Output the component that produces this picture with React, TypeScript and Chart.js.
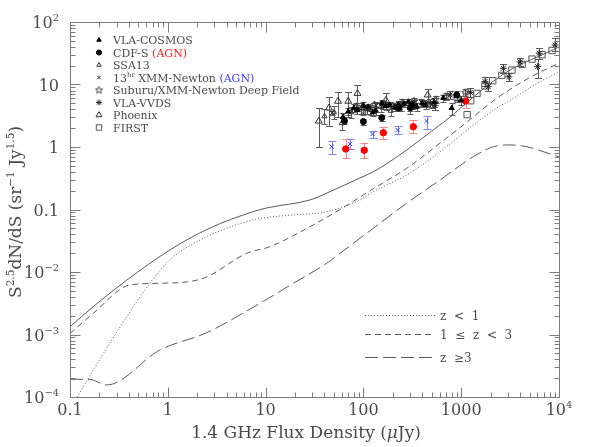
import React, { useEffect, useRef } from "react";
import { Chart, registerables } from "chart.js";
import { drawPoint } from "chart.js/helpers";
Chart.register(...registerables);

const FONT = "'DejaVu Serif', 'Liberation Serif', serif";
const TEXT = "#4a4a4a";
const AXIS = "#7a7a7a";
const CURVE = "#5a5a5a";

// ---------- axes ----------
const xRange = [0.1, 10000];
const yRange = [1e-4, 100];
const xDecades = [0.1, 1, 10, 100, 1000];
const yDecades = [1e-4, 1e-3, 1e-2, 0.1, 1, 10];
const minorSteps = [2, 3, 4, 5, 6, 7, 8, 9];
const xTickValues = [0.1, 1, 10, 100, 1000, 10000];
const xTickBase = ["0.1", "1", "10", "100", "1000", "10"];
const xTickExp = ["", "", "", "", "", "4"];
const yTickValues = [1e-4, 1e-3, 1e-2, 0.1, 1, 10, 100];
const yTickBase = ["10", "10", "10", "0.1", "1", "10", "10"];
const yTickExp = ["\u22124", "\u22123", "\u22122", "", "", "", "2"];

// ---------- model curves ----------
const totalFlux = [0.1, 0.173, 0.38, 1.05, 2.7, 7.43, 10.3, 28.4, 45.5, 92, 126, 277, 500, 830, 1050, 2000, 3155, 5050, 8750, 10000];
const totalCounts = [1.33e-3, 2.79e-3, 7.4e-3, 0.0225, 0.0506, 0.092, 0.106, 0.142, 0.193, 0.319, 0.4, 0.895, 1.8, 3.3, 4.6, 10.5, 17, 24.5, 36, 40];

const lowzFlux = [0.11, 0.256, 0.658, 1.05, 2.13, 7.43, 19.2, 42.5, 92, 126, 277, 607, 1330, 2307, 3410, 6400, 10000];
const lowzCounts = [8.3e-5, 7.3e-4, 6.67e-3, 0.0156, 0.0325, 0.068, 0.082, 0.092, 0.142, 0.193, 0.356, 0.84, 2.25, 4.2, 6.0, 11.1, 15.8];

const midzFlux = [0.1, 0.173, 0.41, 0.83, 2.29, 6.41, 11.1, 28.4, 57.7, 126, 277, 607, 1050, 2307, 5050, 10000];
const midzCounts = [1.04e-3, 2.18e-3, 6.2e-3, 6.6e-3, 7.9e-3, 0.0199, 0.0254, 0.053, 0.1, 0.215, 0.456, 1.15, 2.25, 6.0, 13.0, 22];

const highzFlux = [0.1, 0.157, 0.237, 0.83, 2.5, 8.77, 19.2, 42.2, 57.7, 126, 277, 607, 1330, 2130, 3155, 4680, 8750, 10000];
const highzCounts = [1.92e-4, 1.92e-4, 1.56e-4, 5.65e-4, 1.07e-3, 3.16e-3, 6.6e-3, 0.0138, 0.0199, 0.05, 0.126, 0.296, 0.7, 1.01, 1.08, 1.01, 0.745, 0.7];

// ---------- observed counts ----------
const cosmosFlux = [62, 70, 80, 87, 100, 112, 125, 134, 154, 170, 187, 210, 227, 260, 288, 320, 351, 400, 434, 530, 656, 800, 1000];
const cosmosCounts = [3.0, 3.7, 4.2, 3.9, 4.6, 4.4, 3.6, 3.8, 5.0, 4.5, 4.7, 4.3, 4.7, 4.9, 5.3, 4.8, 4.4, 5.0, 4.7, 5.2, 6.1, 4.2, 5.6];
const cosmosLo = [2.5, 3.2, 3.6, 3.4, 4.0, 3.9, 3.1, 3.3, 4.4, 3.9, 4.1, 3.7, 4.1, 4.3, 4.7, 4.1, 3.8, 4.3, 4.0, 4.4, 5.3, 3.3, 4.7];
const cosmosHi = [3.5, 4.2, 4.8, 4.4, 5.2, 4.9, 4.1, 4.3, 5.6, 5.1, 5.3, 4.9, 5.3, 5.5, 5.9, 5.5, 5.0, 5.7, 5.4, 6.0, 6.9, 5.1, 6.5];

const cdfsFlux = [64, 100, 154, 230, 302, 900];
const cdfsCounts = [2.6, 2.55, 2.95, 4.2, 4.25, 6.8];
const cdfsLo = [2.3, 2.25, 2.6, 3.7, 3.7, 5.6];
const cdfsHi = [2.9, 2.85, 3.3, 4.7, 4.8, 8.0];

const cdfsAgnFlux = [66, 102, 160, 324, 1110];
const cdfsAgnCounts = [0.93, 0.885, 1.69, 2.11, 5.45];
const cdfsAgnLo = [0.66, 0.66, 1.35, 1.65, 4.2];
const cdfsAgnHi = [1.36, 1.17, 2.1, 2.7, 7.2];

const ssaFlux = [40, 50, 60, 75, 95, 120, 150, 190, 240, 300];
const ssaCounts = [3.1, 3.6, 2.4, 3.6, 4.2, 3.9, 4.4, 3.8, 4.6, 4.2];
const ssaLo = [2.3, 2.8, 1.9, 2.9, 3.4, 3.2, 3.6, 3.1, 3.8, 3.4];
const ssaHi = [4.0, 4.5, 3.0, 4.4, 5.1, 4.7, 5.3, 4.6, 5.5, 5.1];

const xmmFlux = [48, 62, 80, 105, 135, 175, 230, 300, 390, 500];
const xmmCounts = [3.5, 3.2, 4.0, 4.3, 4.6, 4.8, 4.4, 4.9, 5.2, 4.8];
const xmmLo = [3.2, 2.9, 3.6, 3.9, 4.2, 4.3, 3.9, 4.3, 4.6, 4.2];
const xmmHi = [3.8, 3.5, 4.4, 4.7, 5.0, 5.3, 4.9, 5.5, 5.8, 5.4];

const xmmAgnFlux = [47.4, 73, 124, 224, 443];
const xmmAgnCounts = [1.01, 1.12, 1.61, 1.87, 2.6];
const xmmAgnLo = [0.76, 0.94, 1.41, 1.62, 1.93];
const xmmAgnHi = [1.25, 1.34, 1.8, 2.15, 3.1];

const subaruFlux = [85, 100, 130, 160, 200, 250, 330, 420, 550, 700, 900, 1100];
const subaruCounts = [4.5, 3.8, 4.8, 5.0, 4.6, 5.2, 5.5, 5.0, 5.8, 6.5, 6.0, 7.5];
const subaruLo = [4.0, 3.3, 4.3, 4.5, 4.1, 4.6, 4.9, 4.4, 5.1, 5.7, 5.2, 6.5];
const subaruHi = [5.0, 4.3, 5.3, 5.5, 5.1, 5.8, 6.1, 5.6, 6.5, 7.3, 6.8, 8.5];

const vvdsFlux = [110, 160, 230, 330, 480, 540, 770, 1240, 1750, 1890, 2700, 3070, 3990, 6050, 6280, 9130];
const vvdsCounts = [4.0, 4.6, 4.8, 5.0, 5.0, 4.6, 6.8, 7.5, 11.1, 9.2, 18.2, 13.3, 23, 19.3, 31.6, 42.8];
const vvdsLo = [3.4, 4.0, 4.1, 4.3, 4.3, 3.9, 5.8, 6.4, 9.3, 7.8, 15.0, 11.3, 19.5, 12.6, 26.0, 34.0];
const vvdsHi = [4.6, 5.2, 5.5, 5.7, 5.8, 5.3, 7.9, 8.7, 13.0, 10.7, 21.5, 15.5, 27, 26, 38, 55];

const phoenixFlux = [35, 44.5, 55, 70, 87, 170, 454];
const phoenixCounts = [2.6, 4.2, 5.4, 5.4, 7.2, 5.6, 6.8];
const phoenixLo = [1.0, 2.2, 3.0, 3.0, 4.2, 4.0, 5.2];
const phoenixHi = [4.2, 6.2, 7.7, 7.6, 9.9, 7.2, 8.6];

const firstFlux = [1150, 1250, 1450, 1750, 2100, 2600, 3300, 4200, 5300, 6700, 8500];
const firstCounts = [3.3, 5.5, 7.2, 9.5, 11.5, 14.0, 17.0, 21.0, 25.5, 30.0, 35.0];

type Part = { t: string; sup?: boolean; color?: string; italic?: boolean };

function fontFor(p: Part, size: number) {
  const s = p.sup ? size * 0.62 : size;
  return `${p.italic ? "italic " : ""}${s}px ${FONT}`;
}
function partsWidth(ctx: CanvasRenderingContext2D, parts: Part[], size: number) {
  let w = 0;
  for (const p of parts) {
    ctx.font = fontFor(p, size);
    w += ctx.measureText(p.t).width;
  }
  return w;
}
function drawParts(ctx: CanvasRenderingContext2D, parts: Part[], x: number, baseline: number, size: number, align: string, color: string) {
  const w = partsWidth(ctx, parts, size);
  let cx = align === "left" ? x : align === "center" ? x - w / 2 : x - w;
  ctx.textAlign = "left";
  ctx.textBaseline = "alphabetic";
  for (const p of parts) {
    ctx.font = fontFor(p, size);
    ctx.fillStyle = p.color || color;
    ctx.fillText(p.t, cx, baseline - (p.sup ? size * 0.42 : 0));
    cx += ctx.measureText(p.t).width;
  }
}

function makeStar(): HTMLCanvasElement {
  const c = document.createElement("canvas");
  c.width = 9;
  c.height = 9;
  const g = c.getContext("2d")!;
  g.strokeStyle = "#333";
  g.lineWidth = 0.9;
  g.beginPath();
  for (let i = 0; i < 10; i++) {
    const r = i % 2 === 0 ? 3.8 : 1.6;
    const a = -Math.PI / 2 + (i * Math.PI) / 5;
    const px = 4.5 + r * Math.cos(a);
    const py = 4.7 + r * Math.sin(a);
    if (i === 0) g.moveTo(px, py);
    else g.lineTo(px, py);
  }
  g.closePath();
  g.stroke();
  return c;
}

export default function App() {
  const ref = useRef<HTMLCanvasElement>(null);
  useEffect(() => {
    const canvas = ref.current!;
    const star = makeStar();

    const series = [
      { label: "VLA-COSMOS", x: cosmosFlux, y: cosmosCounts, lo: cosmosLo, hi: cosmosHi, style: "triangle" as any, r: 3, fill: "#000", stroke: "#000", bar: "#5a5a5a", cap: 3 },
      { label: "CDF-S", x: cdfsFlux, y: cdfsCounts, lo: cdfsLo, hi: cdfsHi, style: "circle" as any, r: 3, fill: "#000", stroke: "#000", bar: "#5a5a5a", cap: 3 },
      { label: "CDF-S AGN", x: cdfsAgnFlux, y: cdfsAgnCounts, lo: cdfsAgnLo, hi: cdfsAgnHi, style: "circle" as any, r: 3.2, fill: "#ff0000", stroke: "#ff0000", bar: "#ff8080", cap: 4 },
      { label: "SSA13", x: ssaFlux, y: ssaCounts, lo: ssaLo, hi: ssaHi, style: "triangle" as any, r: 3, fill: "rgba(0,0,0,0)", stroke: "#333", bar: "#5a5a5a", cap: 3 },
      { label: "13hr XMM", x: xmmFlux, y: xmmCounts, lo: xmmLo, hi: xmmHi, style: "crossRot" as any, r: 3, fill: "rgba(0,0,0,0)", stroke: "#222", bar: "#5a5a5a", cap: 3 },
      { label: "13hr XMM AGN", x: xmmAgnFlux, y: xmmAgnCounts, lo: xmmAgnLo, hi: xmmAgnHi, style: "crossRot" as any, r: 3, fill: "rgba(0,0,0,0)", stroke: "#3d3dff", bar: "#8080ff", cap: 4 },
      { label: "Subaru", x: subaruFlux, y: subaruCounts, lo: subaruLo, hi: subaruHi, style: star as any, r: 3, fill: "rgba(0,0,0,0)", stroke: "#333", bar: "#5a5a5a", cap: 3 },
      { label: "VLA-VVDS", x: vvdsFlux, y: vvdsCounts, lo: vvdsLo, hi: vvdsHi, style: "star" as any, r: 3.5, fill: "rgba(0,0,0,0)", stroke: "#222", bar: "#5a5a5a", cap: 3.5 },
      { label: "Phoenix", x: phoenixFlux, y: phoenixCounts, lo: phoenixLo, hi: phoenixHi, style: "triangle" as any, r: 4, fill: "rgba(0,0,0,0)", stroke: "#333", bar: "#5a5a5a", cap: 3.5 },
      { label: "FIRST", x: firstFlux, y: firstCounts, lo: null as any, hi: null as any, style: "rect" as any, r: 4.5, fill: "rgba(0,0,0,0)", stroke: "#555", bar: "#5a5a5a", cap: 3 },
    ];

    const curves = [
      { x: totalFlux, y: totalCounts, dash: [] as number[] },
      { x: lowzFlux, y: lowzCounts, dash: [1, 2] },
      { x: midzFlux, y: midzCounts, dash: [6, 4] },
      { x: highzFlux, y: highzCounts, dash: [13, 5] },
    ];

    const datasets: any[] = [];
    series.forEach((s) => {
      datasets.push({
        type: "scatter",
        label: s.label,
        data: s.x.map((v, i) => ({ x: v, y: s.y[i] })),
        pointStyle: s.style,
        pointRadius: s.r,
        pointBackgroundColor: s.fill,
        pointBorderColor: s.stroke,
        pointBorderWidth: 1,
        showLine: false,
      });
    });
    curves.forEach((c) => {
      datasets.push({
        type: "line",
        data: c.x.map((v, i) => ({ x: v, y: c.y[i] })),
        borderColor: CURVE,
        borderWidth: 1,
        borderDash: c.dash,
        pointRadius: 0,
        cubicInterpolationMode: "monotone",
        fill: false,
      });
    });

    const errorBars = {
      id: "errorBars",
      beforeDatasetsDraw(chart: any) {
        const { ctx, scales } = chart;
        const xs = scales.x, ys = scales.y;
        ctx.save();
        ctx.lineWidth = 1;
        series.forEach((s) => {
          if (!s.lo) return;
          ctx.strokeStyle = s.bar;
          s.x.forEach((v: number, i: number) => {
            const px = Math.round(xs.getPixelForValue(v)) + 0.5;
            const p1 = Math.round(ys.getPixelForValue(s.lo[i])) + 0.5;
            const p2 = Math.round(ys.getPixelForValue(s.hi[i])) + 0.5;
            ctx.beginPath();
            ctx.moveTo(px, p1);
            ctx.lineTo(px, p2);
            ctx.moveTo(px - s.cap, p1);
            ctx.lineTo(px + s.cap, p1);
            ctx.moveTo(px - s.cap, p2);
            ctx.lineTo(px + s.cap, p2);
            ctx.stroke();
          });
        });
        ctx.restore();
      },
    };

    const frame = {
      id: "frame",
      afterDraw(chart: any) {
        const { ctx, chartArea: a, scales } = chart;
        const xs = scales.x, ys = scales.y;
        ctx.save();
        ctx.strokeStyle = AXIS;
        ctx.lineWidth = 1;
        ctx.beginPath();
        ctx.rect(a.left + 0.5, a.top + 0.5, a.right - a.left, a.bottom - a.top);
        const L = a.left + 0.5, R = a.right + 0.5, T = a.top + 0.5, B = a.bottom + 0.5;
        xDecades.forEach((d) => {
          [1, ...minorSteps].forEach((m) => {
            const px = Math.round(xs.getPixelForValue(d * m)) + 0.5;
            const len = m === 1 ? 10 : 5;
            ctx.moveTo(px, B); ctx.lineTo(px, B - len);
            ctx.moveTo(px, T); ctx.lineTo(px, T + len);
          });
        });
        yDecades.forEach((d) => {
          [1, ...minorSteps].forEach((m) => {
            const py = Math.round(ys.getPixelForValue(d * m)) + 0.5;
            const len = m === 1 ? 10 : 5;
            ctx.moveTo(L, py); ctx.lineTo(L + len, py);
            ctx.moveTo(R, py); ctx.lineTo(R - len, py);
          });
        });
        ctx.stroke();

        const fs = 16;
        xTickValues.forEach((v, i) => {
          const px = xs.getPixelForValue(v);
          const parts: Part[] = [{ t: xTickBase[i] }];
          if (xTickExp[i]) parts.push({ t: xTickExp[i], sup: true });
          drawParts(ctx, parts, px, a.bottom + 18, fs, "center", TEXT);
        });
        yTickValues.forEach((v, i) => {
          const py = ys.getPixelForValue(v);
          const parts: Part[] = [{ t: yTickBase[i] }];
          if (yTickExp[i]) parts.push({ t: yTickExp[i], sup: true });
          drawParts(ctx, parts, a.left - 11, py + 6, fs, "right", TEXT);
        });

        // axis titles
        drawParts(ctx, [{ t: "1.4 GHz Flux Density (" }, { t: "\u03bc", italic: true }, { t: "Jy)" }], 306, 438, 17, "center", TEXT);
        ctx.save();
        ctx.translate(21, 212);
        ctx.rotate(-Math.PI / 2);
        drawParts(ctx, [{ t: "S" }, { t: "2.5", sup: true }, { t: "dN/dS (sr" }, { t: "\u22121", sup: true }, { t: " Jy" }, { t: "1.5", sup: true }, { t: ")" }], 0, 0, 17, "center", TEXT);
        ctx.restore();

        // symbol legend
        const rows: Part[][] = [
          [{ t: "VLA-COSMOS" }],
          [{ t: "CDF-S " }, { t: "(AGN)", color: "#ff2020" }],
          [{ t: "SSA13" }],
          [{ t: "13" }, { t: "hr", sup: true }, { t: " XMM-Newton " }, { t: "(AGN)", color: "#3d3dff" }],
          [{ t: "Suburu/XMM-Newton Deep Field" }],
          [{ t: "VLA-VVDS" }],
          [{ t: "Phoenix" }],
          [{ t: "FIRST" }],
        ];
        const legendSeries = [0, 1, 3, 4, 6, 7, 8, 9];
        rows.forEach((parts, i) => {
          const y = 40 + i * 12.5;
          const s = series[legendSeries[i]];
          ctx.save();
          ctx.fillStyle = s.fill;
          ctx.strokeStyle = s.stroke;
          ctx.lineWidth = 1;
          drawPoint(ctx, { pointStyle: s.style, radius: s.r * 0.85, borderWidth: 1, rotation: 0 } as any, 99, y);
          ctx.restore();
          drawParts(ctx, parts, 113, y + 4, 11, "left", TEXT);
        });

        // line legend
        const lineRows = [
          { dash: [1, 2], text: "z  <  1" },
          { dash: [6, 4], text: "1  \u2264  z  <  3" },
          { dash: [13, 5], text: "z  \u22653" },
        ];
        lineRows.forEach((r, i) => {
          const y = [315, 334, 357][i] + 0.5;
          ctx.save();
          ctx.strokeStyle = CURVE;
          ctx.setLineDash(r.dash);
          ctx.beginPath();
          ctx.moveTo(365, y);
          ctx.lineTo(435, y);
          ctx.stroke();
          ctx.restore();
          drawParts(ctx, [{ t: r.text }], 440, y + 4, 12, "left", TEXT);
        });
        ctx.restore();
      },
    };

    const chart = new Chart(canvas, {
      type: "scatter",
      data: { datasets },
      options: {
        animation: false,
        responsive: false,
        maintainAspectRatio: false,
        layout: { padding: { left: 70, right: 39, top: 22, bottom: 50 } },
        scales: {
          x: { type: "logarithmic", min: xRange[0], max: xRange[1], display: false },
          y: { type: "logarithmic", min: yRange[0], max: yRange[1], display: false },
        },
        plugins: { legend: { display: false }, tooltip: { enabled: false } },
      },
      plugins: [errorBars, frame],
    } as any);
    return () => chart.destroy();
  }, []);

  return (
    <div style={{ position: "fixed", left: 0, top: 0, width: 598, height: 447, background: "#fff" }}>
      <canvas ref={ref} width={598} height={447} style={{ display: "block", width: 598, height: 447 }} />
    </div>
  );
}
